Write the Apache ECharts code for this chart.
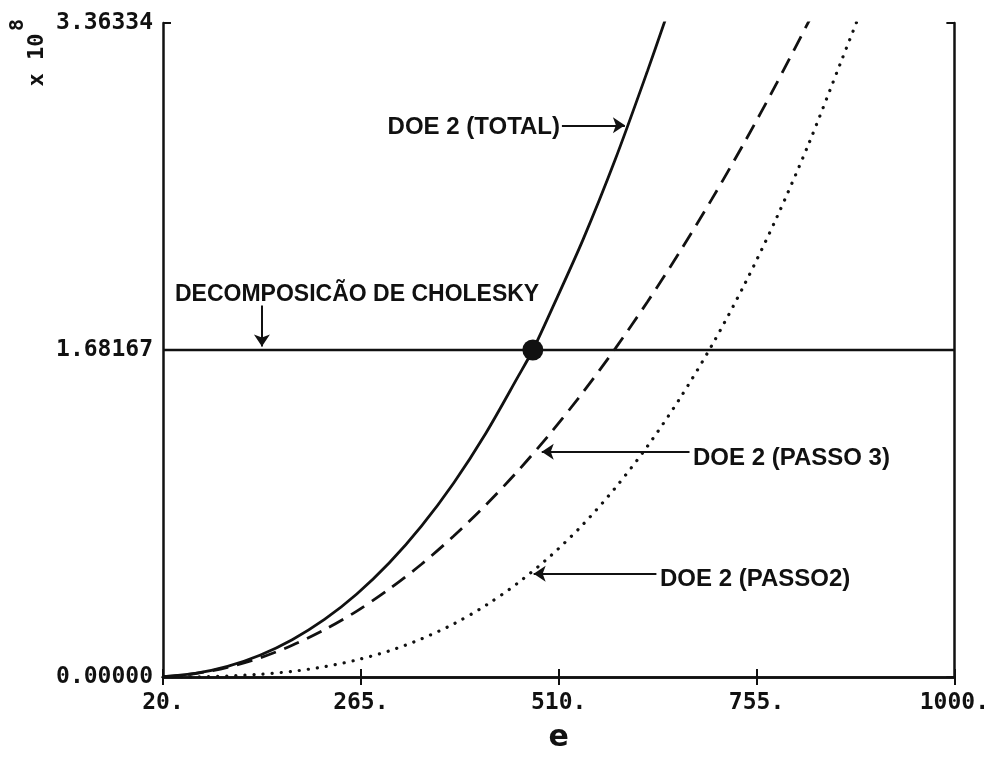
<!DOCTYPE html>
<html>
<head>
<meta charset="utf-8">
<script src="https://cdn.jsdelivr.net/npm/echarts@6/dist/echarts.min.js"></script>
<style>html,body{margin:0;padding:0;background:#fff;}#c{width:992px;height:758px;}</style>
</head>
<body>
<div id="c"></div>
<script>
// x axis ticks / range
const xTicks = [20, 265, 510, 755, 1000];
const yTicks = [0, 1.68167, 3.36334];

// DOE 2 (TOTAL) - solid
const eTotal = [20, 60, 100, 140, 180, 220, 260, 300, 340, 380, 420, 460, 478, 500, 540, 580, 620, 642];
const vTotal = [0.002, 0.019, 0.055, 0.112, 0.192, 0.296, 0.427, 0.586, 0.776, 0.998, 1.255, 1.547, 1.68167, 1.878, 2.248, 2.661, 3.117, 3.38];

// DOE 2 (PASSO 3) - dashed
const ePasso3 = [20, 60, 100, 140, 180, 220, 260, 300, 340, 380, 420, 460, 500, 540, 580, 620, 660, 700, 740, 780, 822];
const vPasso3 = [0.002, 0.018, 0.050, 0.098, 0.163, 0.243, 0.339, 0.452, 0.580, 0.725, 0.886, 1.062, 1.255, 1.464, 1.689, 1.930, 2.187, 2.460, 2.749, 3.054, 3.39];

// DOE 2 (PASSO2) - dotted
const ePasso2 = [20, 60, 100, 140, 180, 220, 260, 300, 340, 380, 420, 460, 500, 540, 580, 620, 660, 700, 740, 780, 820, 860, 882];
const vPasso2 = [0.000, 0.001, 0.005, 0.014, 0.029, 0.053, 0.088, 0.134, 0.196, 0.273, 0.369, 0.485, 0.623, 0.784, 0.972, 1.187, 1.432, 1.708, 2.018, 2.363, 2.746, 3.168, 3.40];

// Decomposição de Cholesky - constant level
const cholesky = 1.68167;
const crossE = 478;

const pairs = (xs, ys) => xs.map((x, i) => [x, ys[i]]);

const chart = echarts.init(document.getElementById('c'), null, {renderer: 'canvas'});
const monoFont = 'DejaVu Sans Mono';
const blk = '#111';

const arrowLines = [
  [{coord: [142.5, 1.91]}, {coord: [142.5, 1.70]}],
  [{coord: [514, 2.837]}, {coord: [592, 2.837]}],
  [{coord: [672, 1.158]}, {coord: [489, 1.158]}],
  [{coord: [631, 0.531]}, {coord: [479, 0.531]}]
];

const option = {
  animation: false,
  backgroundColor: '#fff',
  grid: {left: 163, right: 37, top: 23, bottom: 69, containLabel: false},
  xAxis: [{
    type: 'value', min: xTicks[0], max: xTicks[xTicks.length - 1], interval: 245,
    name: 'e', nameLocation: 'middle', nameGap: 46,
    nameTextStyle: {fontFamily: 'DejaVu Sans', fontWeight: 'bold', fontSize: 30, color: blk},
    axisLine: {lineStyle: {color: blk, width: 2.5}},
    axisTick: {inside: true, length: 8, lineStyle: {color: blk, width: 2}},
    axisLabel: {margin: 15, fontFamily: monoFont, fontWeight: 'bold', fontSize: 23, color: blk,
      formatter: v => v + '.'},
    splitLine: {show: false}
  }, {
    type: 'value', position: 'top', min: xTicks[0], max: xTicks[xTicks.length - 1], interval: 245,
    axisLine: {lineStyle: {color: blk, width: 2.5}},
    axisTick: {inside: true, length: 8, lineStyle: {color: blk, width: 2}},
    axisLabel: {show: false}, splitLine: {show: false}
  }],
  yAxis: [{
    type: 'value', min: yTicks[0], max: yTicks[2], interval: yTicks[1],
    axisLine: {show: true, lineStyle: {color: blk, width: 2.5}},
    axisTick: {show: true, inside: true, length: 8, lineStyle: {color: blk, width: 2}},
    axisLabel: {margin: 10, fontFamily: monoFont, fontWeight: 'bold', fontSize: 23, color: blk,
      formatter: v => v.toFixed(5)},
    splitLine: {show: false}
  }, {
    type: 'value', position: 'right', min: yTicks[0], max: yTicks[2], interval: yTicks[1],
    axisLine: {show: true, lineStyle: {color: blk, width: 2.5}},
    axisTick: {show: true, inside: true, length: 8, lineStyle: {color: blk, width: 2}},
    axisLabel: {show: false}, splitLine: {show: false}
  }],
  series: [
    {
      name: 'DOE 2 (TOTAL)', type: 'line', data: pairs(eTotal, vTotal), showSymbol: false,
      smooth: 0.3, clip: true, lineStyle: {color: blk, width: 2.8}, silent: true, z: 3
    },
    {
      name: 'DOE 2 (PASSO 3)', type: 'line', data: pairs(ePasso3, vPasso3), showSymbol: false,
      smooth: 0.3, clip: true, lineStyle: {color: blk, width: 2.8, type: [16, 9]}, silent: true, z: 2
    },
    {
      name: 'DOE 2 (PASSO2)', type: 'line', data: pairs(ePasso2, vPasso2), showSymbol: false,
      smooth: 0.3, clip: true, lineStyle: {color: blk, width: 3.2, type: [0.1, 9], cap: 'round'}, silent: true, z: 2
    },
    {
      name: 'DECOMPOSIÇÃO DE CHOLESKY', type: 'line',
      data: [[xTicks[0], cholesky], [xTicks[xTicks.length - 1], cholesky]],
      showSymbol: false, lineStyle: {color: blk, width: 2.5}, silent: true, z: 4,
      markPoint: {
        silent: true, symbol: 'circle', symbolSize: 21,
        itemStyle: {color: blk}, label: {show: false},
        data: [{coord: [crossE, cholesky]}]
      },
      markLine: {
        silent: true, symbol: ['none', 'arrow'], symbolSize: 12,
        lineStyle: {color: blk, width: 2, type: 'solid'},
        label: {show: false}, emphasis: {disabled: true},
        data: arrowLines
      }
    }
  ],
  graphic: [
    {type: 'text', x: 175, y: 295, silent: true,
     style: {text: 'DECOMPOSICÃO DE CHOLESKY', font: 'bold 23px "Liberation Sans"', fill: blk,
       textAlign: 'left', textVerticalAlign: 'middle', align: 'left', verticalAlign: 'middle'}},
    {type: 'text', x: 560, y: 127, silent: true,
     style: {text: 'DOE 2 (TOTAL)', font: 'bold 24px "Liberation Sans"', fill: blk,
       textAlign: 'right', textVerticalAlign: 'middle', align: 'right', verticalAlign: 'middle'}},
    {type: 'text', x: 693, y: 458, silent: true,
     style: {text: 'DOE 2 (PASSO 3)', font: 'bold 24px "Liberation Sans"', fill: blk,
       textAlign: 'left', textVerticalAlign: 'middle', align: 'left', verticalAlign: 'middle'}},
    {type: 'text', x: 660, y: 579, silent: true,
     style: {text: 'DOE 2 (PASSO2)', font: 'bold 24px "Liberation Sans"', fill: blk,
       textAlign: 'left', textVerticalAlign: 'middle', align: 'left', verticalAlign: 'middle'}},
    {type: 'text', x: 37, y: 60, rotation: Math.PI / 2, silent: true,
     style: {text: 'x 10', font: 'bold 22px "DejaVu Sans Mono"', fill: blk,
       textAlign: 'center', textVerticalAlign: 'middle', align: 'center', verticalAlign: 'middle'}},
    {type: 'text', x: 18, y: 25, rotation: Math.PI / 2, silent: true,
     style: {text: '8', font: 'bold 20px "DejaVu Sans Mono"', fill: blk,
       textAlign: 'center', textVerticalAlign: 'middle', align: 'center', verticalAlign: 'middle'}}
  ]
};
chart.setOption(option);
</script>
</body>
</html>
